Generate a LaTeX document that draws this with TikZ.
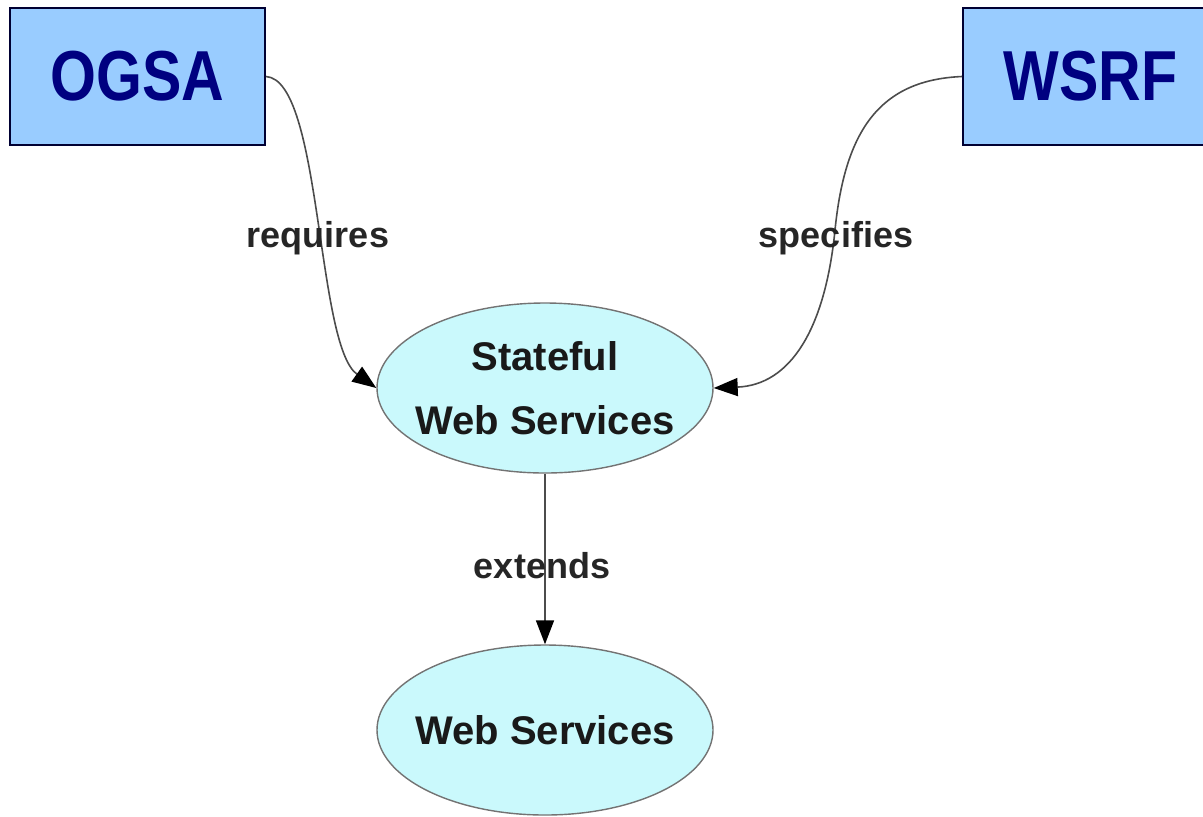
\documentclass[tikz,border=0pt]{standalone}
\usepackage{fontspec}
\usepackage{graphicx}
\setmainfont{Liberation Sans}
\usetikzlibrary{shapes.geometric,arrows.meta}
\definecolor{boxblue}{RGB}{153,204,255}
\definecolor{navytext}{RGB}{0,0,128}
\definecolor{cyanfill}{RGB}{202,249,252}

\begin{document}
\begin{tikzpicture}[x=0.5pt,y=-0.5pt]
    \tikzstyle{spec} = [shape=rectangle, draw=black!80!blue, fill=boxblue, line width=1pt, minimum width=127.5pt, minimum height=68.5pt, inner sep=0pt, text=navytext, font=\fontsize{29.5}{35}\selectfont\bfseries]
    \tikzstyle{svc} = [shape=ellipse, draw=black!55, fill=cyanfill, line width=0.7pt, minimum width=168pt, minimum height=85pt, inner xsep=-5.6pt, inner ysep=0pt, align=center, text=black!90, font=\fontsize{20}{32}\selectfont\bfseries]
    \tikzstyle{rel} = [draw=black!70, line width=0.8pt, -{Triangle[length=12pt,width=9pt,color=black]}]
    \tikzstyle{lbl} = [font=\fontsize{18}{20}\selectfont\bfseries, text=black!85]
    \useasboundingbox (0,0) rectangle (1203,816);

    % 节点
    \node (ogsa) [spec] at (137.5,76.5)  {\scalebox{1}[1.2]{OGSA}};
    \node (wsrf) [spec] at (1090.5,76.5) {\scalebox{1}[1.2]{WSRF}};
    \node (sws)  [svc]  at (545,388)     {Stateful\\Web Services};
    \node (ws)   [svc, below of = sws, node distance=171pt] {Web Services};

    % 连线
    \draw [rel] (ogsa.east) .. controls (322,80) and (316,345) .. (sws.west);
    \draw [rel] (wsrf.west) .. controls (880,80) and (845,130) .. (835,230)
                            .. controls (825,330) and (790,385) .. (sws.east);
    \draw [rel] (sws) -- (ws);

    % 标签
    \node (lreq)  [lbl] at (318,238) {requires};
    \node (lspec) [lbl] at (836,238) {specifies};
    \node (lext)  [lbl] at (542,566) {extends};
\end{tikzpicture}
\end{document}
